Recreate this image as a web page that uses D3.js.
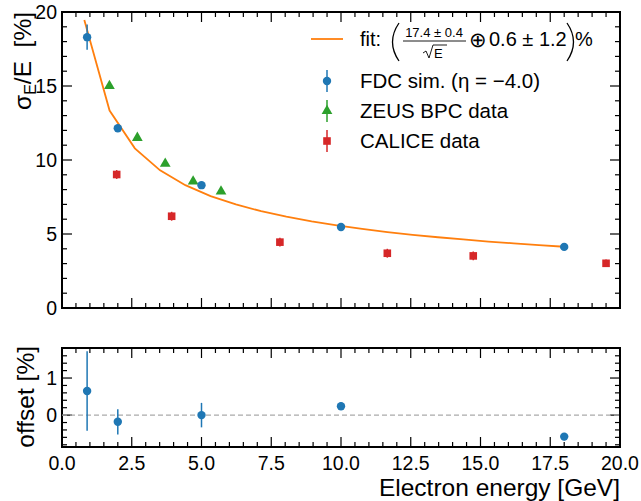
<!DOCTYPE html>
<html>
<head>
<meta charset="utf-8">
<script src="https://cdn.jsdelivr.net/npm/d3@7"></script>
<style>
  body { margin: 0; background: #fff; }
  svg { font-family: "Liberation Sans", Arial, sans-serif; }
</style>
</head>
<body>
<div id="chart"></div>
<script>
// --- data ---
const fdcE     = [0.9, 2.0, 5.0, 10.0, 18.0];
const fdcSigma = [18.3, 12.15, 8.3, 5.47, 4.13];
const fdcErr   = [0.85, 0.2, 0.15, 0.1, 0.08];

const zeusE     = [1.7, 2.7, 3.7, 4.7, 5.7];
const zeusSigma = [15.0, 11.5, 9.75, 8.55, 7.88];

const caliceE     = [1.96, 3.93, 7.81, 11.66, 14.74, 19.5];
const caliceSigma = [9.02, 6.2, 4.45, 3.7, 3.52, 3.02];
const caliceErr   = [0.3, 0.3, 0.3, 0.3, 0.3, 0.25];

const fitE = [0.8, 1.705, 2.611, 3.516, 4.421, 5.326, 6.232, 7.137, 8.042, 8.947,
              9.853, 10.758, 11.663, 12.568, 13.474, 14.379, 15.284, 16.189, 17.095, 18.0];
const fitSigma = [19.46, 13.34, 10.79, 9.30, 8.30, 7.56, 7.00, 6.54, 6.17, 5.85,
                  5.58, 5.34, 5.13, 4.94, 4.78, 4.63, 4.49, 4.37, 4.25, 4.14];

const offsetVal = [0.65, -0.18, 0.0, 0.24, -0.58];
const offsetErr = [1.07, 0.34, 0.33, 0.1, 0.1];

const xTicks = [0, 2.5, 5, 7.5, 10, 12.5, 15, 17.5, 20];

const C = { blue: '#1f77b4', orange: '#ff7f0e', green: '#2ca02c', red: '#d62728' };

const W = 641, H = 501;
const svg = d3.select('#chart').append('svg').attr('width', W).attr('height', H);

const left = 62, right = 620;
const main = { top: 12, bottom: 308 };
const low  = { top: 348, bottom: 447 };

const x = d3.scaleLinear().domain([0, 20]).range([left, right]);
const y = d3.scaleLinear().domain([0, 20]).range([main.bottom, main.top]);
const y2 = d3.scaleLinear().domain([-0.86, 1.81]).range([low.bottom, low.top]);

// ticks pointing inwards on all four sides
function frame(yScale, top, bottom, yMajor, yMinor, yFmt, showX) {
  const g = svg.append('g');
  const xMinor = d3.range(0, 20.01, 0.5);

  xMinor.forEach(v => {
    const len = xTicks.includes(v) ? 10 : 5;
    g.append('line').attr('x1', x(v)).attr('x2', x(v)).attr('y1', bottom).attr('y2', bottom - len)
      .attr('stroke', '#000').attr('stroke-width', 1.2);
    g.append('line').attr('x1', x(v)).attr('x2', x(v)).attr('y1', top).attr('y2', top + len)
      .attr('stroke', '#000').attr('stroke-width', 1.2);
  });
  yMinor.forEach(v => {
    const major = yMajor.some(m => Math.abs(m - v) < 1e-6);
    const len = major ? 10 : 5;
    g.append('line').attr('x1', left).attr('x2', left + len).attr('y1', yScale(v)).attr('y2', yScale(v))
      .attr('stroke', '#000').attr('stroke-width', 1.2);
    g.append('line').attr('x1', right).attr('x2', right - len).attr('y1', yScale(v)).attr('y2', yScale(v))
      .attr('stroke', '#000').attr('stroke-width', 1.2);
  });
  yMajor.forEach(v => {
    g.append('text').attr('x', left - 5).attr('y', yScale(v)).attr('dy', '0.35em')
      .attr('text-anchor', 'end').attr('font-size', 19.5).text(yFmt(v));
  });
  if (showX) {
    xTicks.forEach(v => {
      g.append('text').attr('x', x(v)).attr('y', bottom + 23)
        .attr('text-anchor', 'middle').attr('font-size', 19.5).text(d3.format('.1f')(v));
    });
  }
  g.append('rect').attr('x', left).attr('y', top).attr('width', right - left).attr('height', bottom - top)
    .attr('fill', 'none').attr('stroke', '#000').attr('stroke-width', 2);
}

frame(y, main.top, main.bottom, [0, 5, 10, 15, 20], d3.range(0, 20.01, 1), d3.format('d'), false);
const lowMinor = d3.range(-0.8, 1.81, 0.2).map(v => +v.toFixed(2));
frame(y2, low.top, low.bottom, [0, 1], lowMinor, d3.format('d'), true);

// --- main panel ---
const plot = svg.append('g');

plot.append('path')
  .datum(fitE.map((e, i) => [e, fitSigma[i]]))
  .attr('d', d3.line().x(d => x(d[0])).y(d => y(d[1])))
  .attr('fill', 'none').attr('stroke', C.orange).attr('stroke-width', 1.8);

// CALICE
caliceE.forEach((e, i) => {
  plot.append('line').attr('x1', x(e)).attr('x2', x(e))
    .attr('y1', y(caliceSigma[i] - caliceErr[i])).attr('y2', y(caliceSigma[i] + caliceErr[i]))
    .attr('stroke', C.red).attr('stroke-width', 1.5);
});
plot.selectAll('rect.calice').data(caliceE).join('rect').attr('class', 'calice')
  .attr('x', d => x(d) - 3.8).attr('y', (d, i) => y(caliceSigma[i]) - 3.8)
  .attr('width', 7.6).attr('height', 7.6).attr('fill', C.red);

// ZEUS
const tri = d3.symbol().type(d3.symbolTriangle).size(50);
plot.selectAll('path.zeus').data(zeusE).join('path').attr('class', 'zeus')
  .attr('transform', (d, i) => `translate(${x(d)},${y(zeusSigma[i])})`)
  .attr('d', tri).attr('fill', C.green);

// FDC
fdcE.forEach((e, i) => {
  plot.append('line').attr('x1', x(e)).attr('x2', x(e))
    .attr('y1', y(fdcSigma[i] - fdcErr[i])).attr('y2', y(fdcSigma[i] + fdcErr[i]))
    .attr('stroke', C.blue).attr('stroke-width', 1.5);
});
plot.selectAll('circle.fdc').data(fdcE).join('circle').attr('class', 'fdc')
  .attr('cx', d => x(d)).attr('cy', (d, i) => y(fdcSigma[i])).attr('r', 4.2).attr('fill', C.blue);

// --- legend ---
const lg = svg.append('g');
lg.append('line').attr('x1', 311).attr('x2', 343).attr('y1', 39).attr('y2', 39)
  .attr('stroke', C.orange).attr('stroke-width', 1.8);
lg.append('text').attr('x', 360).attr('y', 46).attr('font-size', 20).text('fit:');
// big delimiters
lg.append('path').attr('d', 'M399,23 Q386,42 399,61').attr('fill', 'none').attr('stroke', '#000').attr('stroke-width', 1.3);
lg.append('path').attr('d', 'M567,23 Q580,42 567,61').attr('fill', 'none').attr('stroke', '#000').attr('stroke-width', 1.3);
lg.append('text').attr('x', 434).attr('y', 37).attr('font-size', 13).attr('text-anchor', 'middle').text('17.4 ± 0.4');
lg.append('line').attr('x1', 403).attr('x2', 466).attr('y1', 41).attr('y2', 41).attr('stroke', '#000').attr('stroke-width', 0.9);
lg.append('path').attr('d', 'M423,53 L426,51 L429,58 L433,45 L447,45')
  .attr('fill', 'none').attr('stroke', '#000').attr('stroke-width', 0.9);
lg.append('text').attr('x', 434).attr('y', 58).attr('font-size', 13).text('E');
lg.append('text').attr('x', 469).attr('y', 47).attr('font-size', 21).text('⊕');
lg.append('text').attr('x', 489).attr('y', 46).attr('font-size', 20).text('0.6 ± 1.2');
lg.append('text').attr('x', 575).attr('y', 46).attr('font-size', 20).text('%');

const rows = [
  { y: 81, label: 'FDC sim. (η = −4.0)', color: C.blue, kind: 'circle' },
  { y: 111, label: 'ZEUS BPC data', color: C.green, kind: 'tri' },
  { y: 141, label: 'CALICE data', color: C.red, kind: 'square' },
];
rows.forEach(r => {
  lg.append('line').attr('x1', 327).attr('x2', 327).attr('y1', r.y - 11).attr('y2', r.y + 11)
    .attr('stroke', r.color).attr('stroke-width', 1.5);
  if (r.kind === 'circle') lg.append('circle').attr('cx', 327).attr('cy', r.y).attr('r', 4.2).attr('fill', r.color);
  else if (r.kind === 'tri') lg.append('path').attr('transform', `translate(327,${r.y})`).attr('d', tri).attr('fill', r.color);
  else lg.append('rect').attr('x', 323.2).attr('y', r.y - 3.8).attr('width', 7.6).attr('height', 7.6).attr('fill', r.color);
  lg.append('text').attr('x', 360).attr('y', r.y).attr('dy', '0.35em').attr('font-size', 20.5).text(r.label);
});

// --- lower panel ---
const lowG = svg.append('g');
lowG.append('line').attr('x1', left).attr('x2', right).attr('y1', y2(0)).attr('y2', y2(0))
  .attr('stroke', '#aaa').attr('stroke-width', 1.2).attr('stroke-dasharray', '5,3');
fdcE.forEach((e, i) => {
  lowG.append('line').attr('x1', x(e)).attr('x2', x(e))
    .attr('y1', y2(offsetVal[i] - offsetErr[i])).attr('y2', y2(offsetVal[i] + offsetErr[i]))
    .attr('stroke', C.blue).attr('stroke-width', 1.5);
});
lowG.selectAll('circle').data(fdcE).join('circle')
  .attr('cx', d => x(d)).attr('cy', (d, i) => y2(offsetVal[i])).attr('r', 4.2).attr('fill', C.blue);

// --- axis labels ---
const yl = svg.append('text').attr('transform', `translate(31,${main.top}) rotate(-90)`)
  .attr('text-anchor', 'end').attr('font-size', 24.5);
yl.append('tspan').text('σ');
yl.append('tspan').attr('font-size', 16).attr('dy', 5).text('E');
yl.append('tspan').attr('dy', -5).text('/E\u00a0\u00a0[%]');

svg.append('text').attr('transform', `translate(34,${low.top - 2}) rotate(-90)`)
  .attr('text-anchor', 'end').attr('font-size', 24.5).text('offset [%]');

svg.append('text').attr('x', right).attr('y', 496).attr('text-anchor', 'end')
  .attr('font-size', 24.5).text('Electron energy [GeV]');
</script>
</body>
</html>
